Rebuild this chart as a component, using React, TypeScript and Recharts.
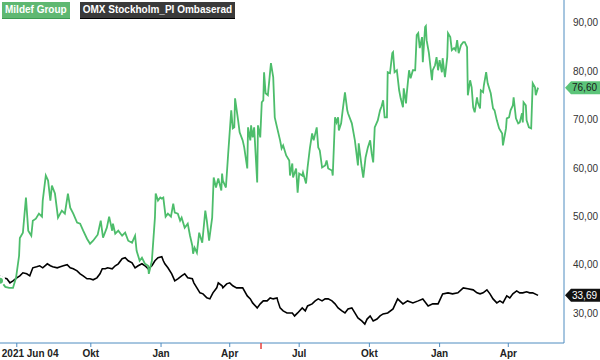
import React from "react";
import { LineChart, Line, XAxis, YAxis, ReferenceLine } from "recharts";

// Day offsets are counted from the first trading day shown.
const startDate = "2021-06-04";
const seriesNames = ["Mildef Group", "OMX Stockholm_PI Ombaserad"];

// [day offset, price] – Mildef Group (SEK)
const mildefSeries: [number, number][] = [
  [0, 36.69], [4, 36.07], [7, 35.44], [12, 35.23], [17, 35.23], [21, 37.31], [25, 41.87], [26, 45.53],
  [30, 46.63], [34, 53.89], [37, 47.05], [41, 46.01], [43, 49.12], [47, 49.54], [51, 50.57], [55, 49.95],
  [56, 53.27], [60, 58.45], [63, 57.41], [66, 53.27], [68, 56.37], [72, 54.72], [76, 49.74], [81, 51.19],
  [85, 50.57], [89, 54.72], [92, 51.81], [96, 50.57], [101, 48.71], [105, 48.5], [109, 47.05], [114, 45.39],
  [118, 44.36], [122, 44.98], [128, 46.22], [132, 49.12], [135, 45.6], [140, 47.67], [143, 49.95], [147, 47.05],
  [148, 48.5], [151, 46.43], [155, 47.05], [160, 46.01], [164, 46.64], [168, 44.98], [173, 44.57], [177, 46.01],
  [179, 42.91], [183, 40.84], [186, 41.46], [190, 40.21], [194, 39.8], [195, 38.14], [199, 40.84], [203, 49.74],
  [204, 54.72], [207, 53.27], [210, 53.89], [212, 53.68], [214, 53.89], [217, 49.95], [220, 50.57], [224, 49.95],
  [227, 52.64], [229, 50.78], [233, 50.57], [236, 49.12], [238, 49.74], [242, 47.67], [246, 48.5], [249, 46.01],
  [252, 43.94], [253, 42.28], [255, 43.53], [258, 42.49], [261, 46.64], [265, 44.56], [269, 51.19], [271, 49.12],
  [274, 44.98], [278, 49.74], [280, 58.03], [283, 55.96], [286, 57.82], [290, 55.34], [291, 58.86], [292, 57.41],
  [296, 55.96], [299, 63.0], [303, 71.91], [305, 68.18], [307, 68.39], [308, 74.4], [312, 69.84], [314, 67.36],
  [318, 65.7], [320, 64.25], [324, 59.9], [325, 68.39], [328, 65.7], [329, 68.81], [331, 66.32], [333, 68.39],
  [337, 56.99], [338, 68.81], [341, 66.32], [343, 73.57], [345, 73.98], [346, 79.78], [348, 75.43], [351, 75.02],
  [355, 81.65], [358, 78.75], [360, 70.46], [363, 68.39], [367, 65.7], [369, 64.04], [371, 64.66], [375, 62.59],
  [379, 61.55], [380, 58.45], [383, 60.93], [384, 58.03], [388, 59.9], [390, 54.92], [392, 58.86], [396, 58.45],
  [397, 59.07], [401, 56.79], [403, 60.1], [406, 64.04], [409, 67.14], [411, 65.7], [415, 68.39], [417, 64.25],
  [419, 63.63], [422, 60.1], [426, 60.52], [428, 61.55], [430, 59.9], [435, 59.48], [436, 58.45], [439, 70.46],
  [441, 69.42], [443, 70.46], [444, 67.77], [447, 69.22], [449, 71.91], [452, 75.64], [455, 71.91], [456, 71.29],
  [461, 69.22], [465, 65.7], [469, 60.52], [470, 65.08], [474, 60.1], [476, 58.03], [479, 62.17], [482, 64.25],
  [485, 65.7], [487, 63.0], [489, 61.14], [491, 68.39], [495, 69.84], [498, 71.91], [500, 72.74], [502, 73.98],
  [504, 70.46], [507, 70.46], [508, 79.78], [511, 79.57], [514, 83.71], [515, 83.92], [517, 79.78], [520, 80.19],
  [523, 76.05], [525, 74.39], [528, 72.53], [529, 76.46], [532, 73.36], [533, 75.43], [536, 80.19], [538, 78.54],
  [541, 80.19], [544, 80.19], [546, 87.44], [548, 87.86], [550, 84.75], [553, 87.03], [554, 81.85], [557, 89.1],
  [558, 89.31], [559, 86.41], [562, 83.71], [566, 78.12], [567, 80.19], [570, 81.22], [572, 82.88], [574, 80.19],
  [576, 82.26], [579, 79.78], [580, 82.68], [583, 78.74], [586, 82.88], [587, 87.86], [590, 87.03], [592, 84.34],
  [595, 84.75], [597, 84.34], [599, 86.41], [601, 83.71], [604, 85.37], [607, 85.99], [609, 85.99], [612, 84.96],
  [613, 75.02], [616, 78.12], [618, 76.67], [620, 72.53], [622, 71.5], [625, 74.6], [626, 73.57], [629, 72.32],
  [630, 76.05], [633, 75.64], [634, 77.09], [637, 79.78], [639, 77.5], [643, 75.43], [646, 72.32], [648, 71.91],
  [651, 69.84], [654, 68.18], [658, 67.14], [659, 64.66], [663, 68.18], [664, 70.25], [667, 70.46], [669, 71.91],
  [672, 72.94], [673, 74.6], [676, 70.25], [679, 69.22], [681, 69.42], [684, 71.29], [685, 69.42], [686, 73.57],
  [689, 72.94], [690, 69.84], [693, 68.39], [696, 68.18], [698, 77.5], [701, 76.67], [702, 75.02], [705, 76.6],
];

// [day offset, index level rebased to Mildef's start price]
const omxSeries: [number, number][] = [
  [0, 37.11], [4, 37.31], [9, 37.11], [13, 36.28], [17, 36.69], [22, 37.31], [26, 37.73], [30, 38.35],
  [35, 38.14], [39, 37.73], [43, 39.38], [48, 39.59], [52, 39.8], [56, 39.38], [62, 40.21], [66, 39.8],
  [69, 39.59], [75, 39.38], [79, 39.59], [83, 39.8], [88, 40.01], [92, 39.38], [96, 39.18], [101, 38.76],
  [105, 38.14], [109, 37.73], [114, 37.11], [118, 37.11], [122, 36.9], [127, 37.31], [131, 38.14], [134, 39.18],
  [138, 39.18], [141, 39.38], [147, 39.18], [151, 39.8], [155, 40.21], [160, 41.25], [164, 41.46], [168, 40.84],
  [173, 40.42], [177, 39.38], [181, 39.8], [186, 40.21], [190, 39.8], [194, 39.18], [199, 39.8], [203, 40.84],
  [207, 41.46], [212, 41.66], [214, 40.84], [216, 40.21], [220, 39.38], [225, 38.14], [229, 36.69], [233, 37.11],
  [238, 37.73], [242, 38.14], [246, 37.31], [252, 37.11], [254, 36.28], [258, 35.24], [262, 34.21], [266, 34.0],
  [271, 33.17], [275, 32.96], [279, 34.21], [284, 35.24], [286, 36.28], [291, 35.66], [292, 35.24], [297, 36.07],
  [301, 36.28], [305, 35.66], [310, 35.24], [314, 35.24], [318, 35.24], [324, 33.58], [328, 32.96], [331, 32.13],
  [337, 31.1], [341, 31.93], [345, 32.55], [350, 32.55], [354, 33.17], [358, 32.96], [363, 33.17], [364, 32.55],
  [367, 31.1], [371, 30.48], [376, 30.06], [379, 30.06], [383, 30.06], [386, 29.44], [390, 30.06], [396, 31.1],
  [400, 30.48], [403, 31.51], [409, 31.93], [413, 32.55], [417, 32.96], [422, 32.55], [426, 32.96], [430, 32.96],
  [435, 32.55], [439, 31.93], [443, 31.1], [448, 30.48], [452, 30.06], [456, 30.89], [461, 31.1], [465, 30.06],
  [469, 29.03], [474, 28.41], [478, 27.77], [481, 28.79], [485, 29.44], [489, 28.41], [494, 28.79], [498, 29.44],
  [502, 29.86], [508, 30.06], [515, 30.89], [521, 32.96], [528, 31.93], [534, 32.55], [541, 32.13], [548, 32.55],
  [554, 32.96], [561, 31.51], [567, 31.93], [574, 31.93], [580, 34.0], [587, 34.21], [593, 34.0], [600, 34.21],
  [607, 35.24], [613, 35.04], [620, 34.83], [625, 34.21], [629, 34.0], [633, 34.21], [638, 34.83], [642, 34.0],
  [646, 32.96], [651, 32.13], [655, 32.55], [659, 32.13], [664, 33.58], [668, 33.17], [672, 34.0], [677, 34.62],
  [681, 34.21], [685, 34.21], [690, 34.42], [694, 34.21], [698, 34.21], [705, 33.69],
];

const xTickDays = [22, 119, 211, 301, 392, 484, 576, 666];
const xTickLabels = ["2021 Jun 04", "Okt", "Jan", "Apr", "Jul", "Okt", "Jan", "Apr"];
const markerDay = 342;
const yTicks = [30, 40, 50, 60, 70, 80, 90];
const xDomain: [number, number] = [0, 739];
const yDomain: [number, number] = [23.85, 94.7];

const mildefData = mildefSeries.map(([day, value]) => ({ day, value }));
const omxData = omxSeries.map(([day, value]) => ({ day, value }));
const lastMildef = mildefSeries[mildefSeries.length - 1][1];
const lastOmx = omxSeries[omxSeries.length - 1][1];

const GREEN = "#4dbd6b";
const AXIS = "#4f8cc0";
const FONT = "'Liberation Sans', Arial, sans-serif";

const fmt = (v: number) => v.toFixed(2).replace(".", ",");

function XTick(props: any) {
  const { x, y, payload } = props;
  const day = payload.value;
  if (day === markerDay) {
    return <line x1={x} x2={x} y1={y} y2={y + 6} stroke="#e8413c" strokeWidth={1.5} />;
  }
  const i = xTickDays.indexOf(day);
  const first = i === 0;
  return (
    <g>
      <line x1={x} x2={x} y1={y} y2={y + 4} stroke={AXIS} strokeWidth={1} />
      <text
        x={first ? x - 15 : x}
        y={y + 14}
        textAnchor={first ? "start" : "middle"}
        fontFamily={FONT}
        fontSize={10}
        fontWeight="bold"
        fill="#222"
      >
        {xTickLabels[i]}
      </text>
    </g>
  );
}

function YTick(props: any) {
  const { x, y, payload } = props;
  return (
    <text x={x} y={y} dy="0.355em" textAnchor="start" fontFamily={FONT} fontSize={10} fill="#333">
      {fmt(payload.value)}
    </text>
  );
}

function PriceTag(props: any) {
  const { viewBox, value, fill, textColor } = props;
  const x = viewBox.x + viewBox.width;
  const y = viewBox.y;
  const h = 6.5;
  return (
    <g>
      <path
        d={`M${x + 1},${y} L${x + 7},${y - h} L600,${y - h} L600,${y + h} L${x + 7},${y + h} Z`}
        fill={fill}
      />
      <text x={x + 8} y={y} dy="0.355em" fontFamily={FONT} fontSize={10} fill={textColor}>
        {fmt(value)}
      </text>
    </g>
  );
}

export default function App() {
  return (
    <div style={{ position: "fixed", left: 0, top: 0, width: 600, height: 360, background: "#fff" }}>
      <LineChart width={600} height={360} margin={{ top: 0, right: 0, bottom: 0, left: 0 }}>
        <XAxis
          type="number"
          dataKey="day"
          domain={xDomain}
          ticks={[...xTickDays, markerDay]}
          interval={0}
          allowDataOverflow
          height={17}
          tickSize={0}
          tickMargin={0}
          tickLine={false}
          axisLine={{ stroke: AXIS, strokeWidth: 1 }}
          tick={<XTick />}
        />
        <YAxis
          type="number"
          orientation="right"
          domain={yDomain}
          ticks={yTicks}
          interval={0}
          allowDataOverflow
          width={36}
          tickSize={0}
          tickMargin={9}
          tickLine={false}
          axisLine={{ stroke: AXIS, strokeWidth: 1 }}
          tick={<YTick />}
        />
        <Line
          data={omxData}
          dataKey="value"
          name={seriesNames[1]}
          stroke="#000"
          strokeWidth={1.6}
          dot={false}
          isAnimationActive={false}
        />
        <Line
          data={mildefData}
          dataKey="value"
          name={seriesNames[0]}
          stroke={GREEN}
          strokeWidth={1.8}
          dot={false}
          isAnimationActive={false}
        />
        <ReferenceLine
          y={lastMildef}
          stroke="none"
          label={<PriceTag value={lastMildef} fill="#5cc479" textColor="#1a1a1a" />}
        />
        <ReferenceLine
          y={lastOmx}
          stroke="none"
          label={<PriceTag value={lastOmx} fill="#111" textColor="#fff" />}
        />
      </LineChart>
      <div
        style={{
          position: "absolute",
          left: 2,
          top: 2,
          display: "flex",
          gap: 10,
          fontFamily: FONT,
          fontSize: 10,
          fontWeight: "bold",
          color: "#fff",
          lineHeight: "14px",
        }}
      >
        <div style={{ background: "#5fb872", padding: "1px 3px", borderBottom: "1px solid #3d9a52" }}>
          {seriesNames[0]}
        </div>
        <div style={{ background: "#3a3a3a", padding: "1px 3px", borderBottom: "1px solid #000" }}>
          {seriesNames[1]}
        </div>
      </div>
      <span style={{ display: "none" }}>{startDate}</span>
    </div>
  );
}
